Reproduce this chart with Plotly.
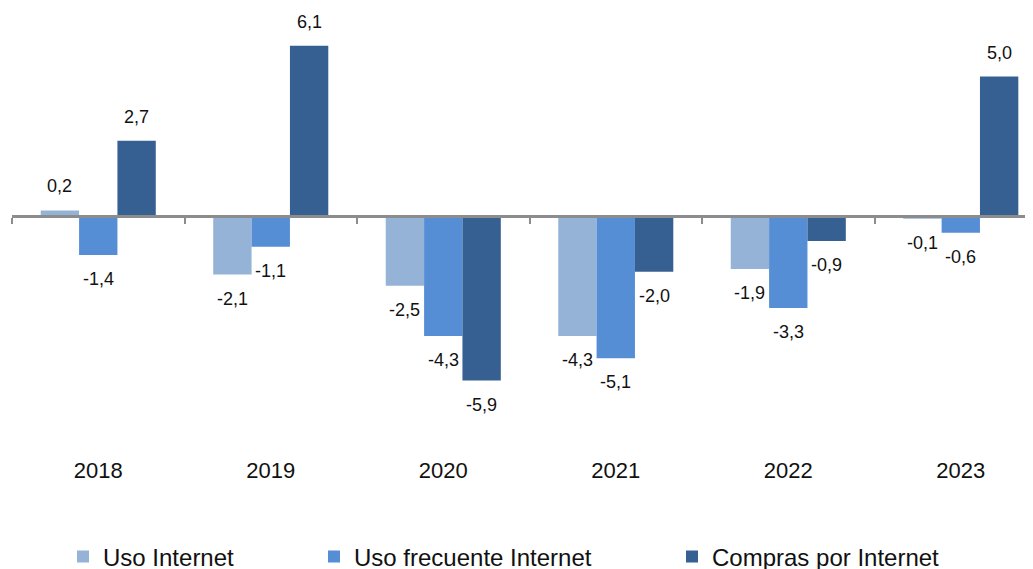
import plotly.graph_objects as go

years = ["2018", "2019", "2020", "2021", "2022", "2023"]
uso_internet = [0.2, -2.1, -2.5, -4.3, -1.9, -0.1]
uso_frecuente = [-1.4, -1.1, -4.3, -5.1, -3.3, -0.6]
compras = [2.7, 6.1, -5.9, -2.0, -0.9, 5.0]

names = ["Uso Internet", "Uso frecuente Internet", "Compras por Internet"]
colors = ["#95B3D7", "#558ED5", "#366092"]
series = [uso_internet, uso_frecuente, compras]

W, H = 1033, 569
FONT = "Liberation Sans, Arial, Helvetica, sans-serif"

xpos = list(range(len(years)))
ymin, ymax = -8.566, 7.455
xrange_ = [-0.5, 5.465]
bargap = 0.333
bw = (1 - bargap) / 3

fig = go.Figure()
legends = ["legend", "legend2", "legend3"]
for i, (nm, col, vals) in enumerate(zip(names, colors, series)):
    fig.add_trace(go.Bar(x=xpos, y=vals, name=nm, marker=dict(color=col, line=dict(width=0)),
                         legend=legends[i], hoverinfo="skip"))

# helper trace so the zero-crossing axis is rendered
fig.add_trace(go.Scatter(x=[None], y=[None], xaxis="x2", yaxis="y", showlegend=False,
                         hoverinfo="skip"))

annotations = []
for i, vals in enumerate(series):
    off = (i - 1) * bw
    for xi, v in zip(xpos, vals):
        annotations.append(dict(
            x=xi + off, y=v, xref="x", yref="y",
            text=f"{v:.1f}".replace(".", ","),
            showarrow=False, yanchor="middle",
            yshift=24 if v >= 0 else -24,
            font=dict(family=FONT, size=18, color="#111111"),
        ))

zero_pos = (0 - ymin) / (ymax - ymin)

leg_common = dict(orientation="h", xref="container", yref="container",
                  xanchor="left", yanchor="middle", bgcolor="rgba(0,0,0,0)",
                  font=dict(family=FONT, size=24, color="#111111"))
leg_y = 1 - 549 / H

fig.update_layout(
    width=W, height=H,
    margin=dict(l=4, r=0, t=0, b=122),
    plot_bgcolor="white", paper_bgcolor="white",
    barmode="group", bargap=bargap, bargroupgap=0,
    showlegend=True,
    xaxis=dict(range=xrange_, tickvals=xpos, ticktext=years, showline=False,
               showgrid=False, zeroline=False, ticks="",
               tickfont=dict(family=FONT, size=22, color="#111111")),
    xaxis2=dict(overlaying="x", anchor="free", position=zero_pos, side="bottom",
                range=xrange_, tickvals=[-0.5, 0.5, 1.5, 2.5, 3.5, 4.5, 5.5],
                showticklabels=False, ticks="outside", ticklen=6, tickwidth=2,
                tickcolor="#8C8C8C", showline=True, linecolor="#8C8C8C", linewidth=3,
                showgrid=False, zeroline=False, layer="above traces"),
    yaxis=dict(range=[ymin, ymax], showgrid=False, zeroline=False, showline=False,
               showticklabels=False, ticks=""),
    legend=dict(x=55 / W, y=leg_y, **leg_common),
    legend2=dict(x=306 / W, y=leg_y, **leg_common),
    legend3=dict(x=664 / W, y=leg_y, **leg_common),
    annotations=annotations,
)

fig.write_html("out.html")
